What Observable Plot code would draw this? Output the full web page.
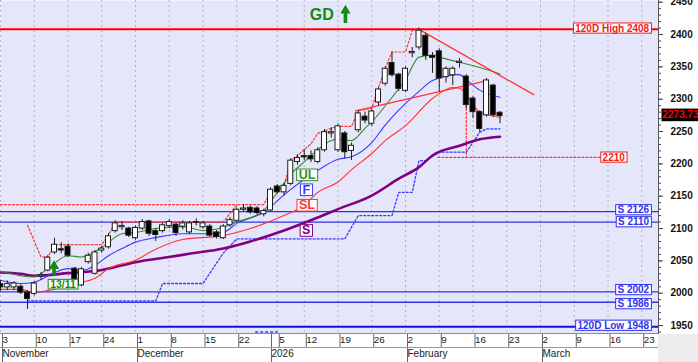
<!DOCTYPE html>
<html><head><meta charset="utf-8">
<script src="https://cdn.jsdelivr.net/npm/d3@7"></script>
<script src="https://cdn.jsdelivr.net/npm/@observablehq/plot@0.6"></script>
<style>
html,body{margin:0;padding:0;background:#fff;}
#wrap{position:relative;width:698px;height:362px;overflow:hidden;font-family:"Liberation Sans",Arial,sans-serif;}
#wrap svg{position:absolute;left:0;top:0;font-family:"Liberation Sans",Arial,sans-serif;}
.deco{position:absolute;}
</style></head><body>
<div id="wrap"></div>
<script>
// ---------- daily candles (trading-day index = array position) ----------
const open = [2014,2009,2009,2010,2001,1999,2026,2035,2063,2068,
  2072,2038,2012,2048,2030,2066,2071,2096,2102,2100,
  2085,2100,2111,2096,2096,2104,2106,2103,2094,2110,
  2102,2103,2094,2085,2105,2112,2129,2132,2131,2122,
  2128,2165,2156,2169,2203,2212,2212,2203,2221,2247,
  2221,2247,2220,2252,2273,2262,2295,2324,2356,2338,
  2313,2371,2380,2398,2367,2374,2334,2337,2356,2335,
  2301,2280,2275,2321,2279];
const high = [2020,2019,2018,2013,2004,2018,2032,2058,2085,2078,
  2076,2040,2040,2062,2066,2072,2092,2112,2111,2102,
  2104,2114,2113,2100,2108,2114,2108,2112,2111,2115,
  2111,2106,2097,2106,2117,2132,2137,2135,2134,2130,
  2163,2168,2170,2208,2214,2222,2220,2225,2253,2256,
  2262,2250,2232,2282,2280,2285,2318,2350,2373,2340,
  2350,2380,2410,2402,2372,2378,2350,2350,2363,2338,
  2304,2282,2332,2323,2281];
const low = [2003,2004,2004,1998,1975,1996,2020,2033,2060,2061,
  2055,2020,2010,2045,2028,2062,2068,2093,2097,2086,
  2082,2097,2088,2080,2093,2100,2088,2098,2091,2104,
  2099,2087,2084,2083,2102,2110,2126,2122,2121,2118,
  2126,2153,2150,2166,2198,2205,2202,2200,2218,2240,
  2218,2208,2205,2248,2262,2258,2290,2320,2334,2312,
  2310,2364,2376,2360,2340,2311,2325,2321,2348,2285,
  2270,2249,2272,2272,2262];
const close = [2009,2014,2015,2001,1991,2015,2028,2055,2075,2066,
  2058,2022,2037,2058,2063,2069,2088,2108,2104,2089,
  2101,2110,2092,2090,2105,2110,2093,2108,2108,2109,
  2108,2089,2087,2103,2113,2129,2131,2125,2124,2127,
  2160,2156,2166,2205,2209,2210,2207,2221,2249,2249,
  2258,2218,2228,2278,2267,2281,2315,2347,2337,2316,
  2347,2373,2406,2367,2364,2332,2347,2347,2358,2291,
  2280,2254,2329,2275,2273.73];

// ---------- indicator lines (index, value) ----------
const ulIdx = [0,5,7,10,12,15,18,20,23,27,30,33,35,39,41,42,43,45,47,49,50,52,54,55,58,60,62,64,65,68,71,74];
const ulVal = [2034,2025,2038,2058,2056,2071,2092,2094,2100,2103,2097,2102,2110,2128,2156,2170,2184,2203,2222,2236,2238,2236,2255,2265,2303,2330,2365,2368,2365,2357,2349,2339];
const fIdx = [0,3,5,8,10,12,14,16,18,20,23,27,30,33,35,39,42,47,50,52,55,57,59,62,64,68,69,71,74];
const fVal = [2020,2015,2017,2032,2038,2035,2043,2058,2069,2079,2086,2092,2092,2094,2108,2125,2152,2190,2207,2211,2233,2260,2283,2312,2329,2338,2330,2314,2303];
const slIdx = [0,3,5,7,11,14,16,20,23,27,33,37,42,45,47,50,52,55,57,60,64,67,68,71,74];
const slVal = [2006,2006,2001,2004,2015,2023,2038,2051,2068,2083,2089,2100,2120,2136,2156,2172,2191,2216,2236,2259,2301,2318,2317,2280,2272];
const sIdx = [0,3,5,10,15,20,25,28,33,37,42,47,50,55,59,62,64,68,71,74];
const sVal = [2032,2030,2027,2031,2036,2048,2056,2061,2069,2080,2097,2117,2130,2151,2177,2195,2213,2228,2238,2242];

// dotted stop / support lines
const resIdx = [0,35];
const resVal = [2137,2137];
const stopIdx = [4,6,7,8,15,16,17,33,35,39,40,42,43,44,46,47,49,50,52,53,55,56,57,58,60,61,62];
const stopVal = [2105,2056,2056,2075,2075,2090,2110,2110,2137,2137,2156,2166,2205,2213,2231,2247,2255,2258,2258,2282,2286,2318,2348,2373,2373,2406,2408];
const supIdx = [4,23,24,30,33,35,51,53,58,59,61,62,63,65,69,71,72,74];
const supVal = [1988,1988,2015,2015,2062,2084,2084,2120,2120,2156,2156,2205,2205,2218,2218,2249,2254,2254];
const supLowIdx = [37.8,41];
const supLowVal = [1940,1940];
const dropIdx = [69,69];
const dropVal = [2329,2210];
const tgtIdx = [64.8,88.9];
const tgtVal = [2210,2210];
const tgtLabel = "2210";

// trend lines
const downIdx = [62,79];
const downVal = [2408,2307];
const neckIdx = [52.6,72.3];
const neckVal = [2282,2329];

// horizontal levels
const levelValues = [2408,2126,2110,2002,1986,1948];
const levelLabels = ["120D High 2408","S 2126","S 2110","S 2002","S 1986","120D Low 1948"];

// indicator labels
const maNames = ["UL","F","SL","S"];
const maLabelIdx = [45.4,45.3,45.4,45.3];
const maLabelVal = [2183,2160,2136,2097];

// signals
const sigIdx = [51.1,7.93];
const sigHead = [2437,2042];
const sigTop = [2434,2040];
const sigBottom = [2417,2027];
const gdText = "GD", gdIdx = 47.6, gdVal = 2431;
const dateText = "13/11", dateIdx = 9.26, dateVal = 2013;
const lastPrice = 2273.73;

// axis ticks
const weekTickIndex = [0,5,10,15,20,25,30,35,41,45,50,55,60,65,70,75,80,85,90,95];
const weekTickLabels = ["3","10","17","24","1","8","15","22","5","12","19","26","2","9","16","23","2","9","16","23"];
const monthTickIndex = [0,20,39.85,60,80];
const monthLabels = ["November","December","2026","February","March"];
const yTicks = [1950,2000,2050,2100,2150,2200,2250,2300,2350,2400,2450];

// ---------- build ----------
const candles = open.map((o,i)=>({i, o, h: high[i], l: low[i], c: close[i]}));
const pts = (xs, ys) => xs.map((x,k)=>({x, y: ys[k]}));
const levels = levelValues.map((v,k)=>({v, label: levelLabels[k], kind: k===0?"high":(k===5?"low":"s")}));
const maLabels = maNames.map((n,k)=>({n, x: maLabelIdx[k], y: maLabelVal[k]}));
const signals = sigIdx.map((x,k)=>({x, head: sigHead[k], top: sigTop[k], bottom: sigBottom[k]}));
const weekMap = new Map(weekTickIndex.map((d,k)=>[d, weekTickLabels[k]]));
const monthMap = new Map(monthTickIndex.map((d,k)=>[d, monthLabels[k]]));

const GREEN="#2f8f2f", BLUE="#3a3aff", RED="#ff3434", PURPLE="#800080", SBLUE="#3232e8", DGREEN="#138a13";
const FONT = '"Liberation Sans", Arial, sans-serif';
const XMAX = 97.48;
const levelDy = [-1, -1.7, 0, -2, 1.7, -1.3];   // label nudges (style)

const plot = Plot.plot({
  width: 698, height: 362,
  marginLeft: 0, marginRight: 40, marginTop: 0, marginBottom: 29,
  x: {domain: [0, XMAX], axis: null},
  y: {domain: [1937.7, 2452.6], axis: null},
  style: {fontFamily: FONT, background: "transparent", overflow: "visible"},
  marks: [
    Plot.frame({fill: "#e6e6fa", stroke: null}),
    Plot.ruleX(weekTickIndex, {stroke: "#b2b2bf", strokeDasharray: "2,3", strokeWidth: 1}),
    // levels
    Plot.ruleY(levels, {y: "v", stroke: d => d.kind==="high" ? "#ff0000" : (d.kind==="low" ? "#1010d8" : SBLUE),
      strokeWidth: d => d.kind==="s" ? 1.3 : 2}),
    // dotted lines
    Plot.line(pts(resIdx,resVal), {x:"x", y:"y", stroke: RED, strokeDasharray: "2,2", strokeWidth: 1.2}),
    Plot.line(pts(stopIdx,stopVal), {x:"x", y:"y", stroke: RED, strokeDasharray: "2,2", strokeWidth: 1.2}),
    Plot.line(pts(dropIdx,dropVal), {x:"x", y:"y", stroke: RED, strokeDasharray: "2,2", strokeWidth: 1.2}),
    Plot.line(pts(tgtIdx,tgtVal), {x:"x", y:"y", stroke: RED, strokeDasharray: "2,2", strokeWidth: 1.2}),
    Plot.line(pts(supIdx,supVal), {x:"x", y:"y", stroke: BLUE, strokeDasharray: "2,2", strokeWidth: 1.3}),
    Plot.line(pts(supLowIdx,supLowVal), {x:"x", y:"y", stroke: BLUE, strokeDasharray: "2,3", strokeWidth: 1.3}),
    // moving averages
    Plot.line(pts(sIdx,sVal), {x:"x", y:"y", stroke: PURPLE, strokeWidth: 2.6, curve: "monotone-x"}),
    Plot.line(pts(slIdx,slVal), {x:"x", y:"y", stroke: RED, strokeWidth: 1.1, curve: "monotone-x"}),
    Plot.line(pts(fIdx,fVal), {x:"x", y:"y", stroke: BLUE, strokeWidth: 1.1, curve: "monotone-x"}),
    Plot.line(pts(ulIdx,ulVal), {x:"x", y:"y", stroke: GREEN, strokeWidth: 1.1, curve: "monotone-x"}),
    // trend lines
    Plot.line(pts(downIdx,downVal), {x:"x", y:"y", stroke: RED, strokeWidth: 1.3}),
    Plot.line(pts(neckIdx,neckVal), {x:"x", y:"y", stroke: RED, strokeWidth: 1.3}),
    // candles
    Plot.ruleX(candles, {x: "i", y1: "l", y2: "h", stroke: "#1e1e1e", strokeWidth: 1, clip: true}),
    Plot.rect(candles, {x1: d => d.i - 0.37, x2: d => d.i + 0.37,
      y1: d => Math.min(d.o, d.c), y2: d => Math.max(d.o, d.c),
      fill: d => d.c >= d.o ? "#ffffff" : "#000000", stroke: "#1e1e1e", strokeWidth: 1, clip: true}),
    // signals
    Plot.ruleX(signals, {x: "x", y1: "bottom", y2: "top", stroke: DGREEN, strokeWidth: 3.6}),
    Plot.dot(signals, {x: "x", y: "head", symbol: "triangle", r: 3.8, fill: DGREEN, stroke: null}),
    Plot.text([gdText], {x: gdIdx, y: gdVal, text: d => d, fill: DGREEN, fontWeight: "bold", fontSize: 16, fontFamily: FONT}),
    Plot.text([dateText], {x: dateIdx, y: dateVal, text: d => d, fill: DGREEN, fontWeight: "bold", fontSize: 10.5, fontFamily: FONT, className: "lbox"}),
    // indicator labels
    Plot.text(maLabels, {x: "x", y: "y", text: "n", fontWeight: "bold", fontSize: 12.5, fontFamily: FONT,
      fill: d => ({UL: GREEN, F: BLUE, SL: RED, S: PURPLE})[d.n], className: "lbox"}),
    // level labels
    ...levels.map((d, k) => Plot.text([d], {x: 96.1, y: "v", text: "label", textAnchor: "end", dy: levelDy[k],
      fontWeight: "bold", fontSize: 10, fontFamily: FONT, fill: d.kind==="high" ? "#ee1c1c" : SBLUE, className: "sbox"})),
    Plot.text([tgtLabel], {x: tgtIdx[1], y: tgtVal[1], text: d => d, textAnchor: "start", dx: 2, fontWeight: "bold", fontSize: 10,
      fontFamily: FONT, fill: "#ee1c1c", className: "sbox"}),
    // last price
    Plot.text([lastPrice], {x: XMAX, y: d => d, text: d => d.toFixed(2), textAnchor: "start", dx: 4, dy: -1, fontWeight: "bold", fontSize: 10,
      fontFamily: FONT, fill: "#ff0000", className: "pbox"}),
    // y axis
    Plot.axisY(d3.range(1940, 2460, 10), {anchor: "right", tickSize: 2, tickFormat: () => "", stroke: "#444"}),
    Plot.axisY(yTicks, {anchor: "right", tickSize: 4, tickPadding: 8, textAnchor: "start", fontWeight: "bold", fontSize: 10,
      fontFamily: FONT, fill: "#111", stroke: "#444", tickFormat: d => String(d), label: null}),
    // x axis rows
    Plot.axisX(weekTickIndex, {anchor: "bottom", tickSize: 14, tickPadding: -11, textAnchor: "start", dx: 2, fontSize: 9.8,
      fontFamily: FONT, fill: "#222", stroke: "#666", tickFormat: d => weekMap.get(d), label: null}),
    Plot.axisX(monthTickIndex, {anchor: "bottom", tickSize: 29, tickPadding: -13, textAnchor: "start", dx: 2, fontSize: 10,
      fontFamily: FONT, fill: "#222", stroke: "#666", tickFormat: d => monthMap.get(d), label: null})
  ]
});

const wrap = document.getElementById("wrap");
wrap.appendChild(plot);

function deco(css){ const d=document.createElement("div"); d.className="deco"; d.style.cssText=css; wrap.appendChild(d); }
deco("left:658px;top:334px;width:40px;height:28px;background:#ececec;");
deco("left:0;top:333px;width:658px;height:1px;background:#8a8a8a;");
deco("left:0;top:347px;width:658px;height:1px;background:#9a9a9a;");
deco("left:658px;top:0;width:1px;height:334px;background:#555;");

function boxify(cls, fillOverride, strokeOverride, padX, padY){
  plot.querySelectorAll("g." + cls + " text").forEach(t => {
    const b = t.getBBox();
    const col = t.getAttribute("fill") || t.parentNode.getAttribute("fill") || "#000";
    const r = document.createElementNS("http://www.w3.org/2000/svg", "rect");
    r.setAttribute("x", b.x - padX);
    r.setAttribute("y", b.y + padY);
    r.setAttribute("width", b.width + 2*padX);
    r.setAttribute("height", b.height - 2*padY);
    r.setAttribute("fill", fillOverride || "#ffffff");
    r.setAttribute("stroke", strokeOverride || col);
    r.setAttribute("stroke-width", "1");
    const tr = t.getAttribute("transform"); if (tr) r.setAttribute("transform", tr);
    t.parentNode.insertBefore(r, t);
  });
}
boxify("lbox", null, null, 2, 1.2);
boxify("sbox", null, null, 1.8, 0.4);
boxify("pbox", "#000000", "none", 1, -0.8);
</script>
</body></html>
